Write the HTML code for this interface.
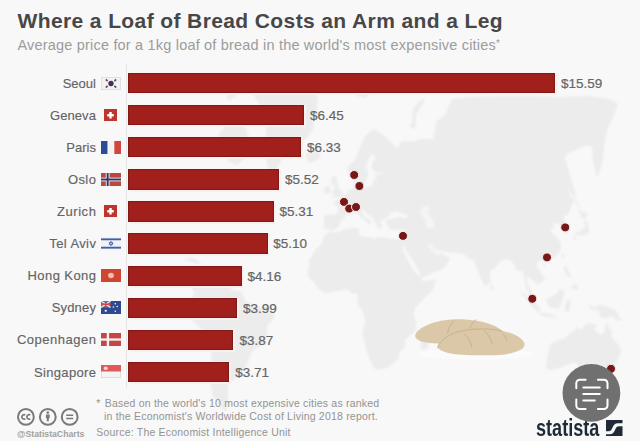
<!DOCTYPE html>
<html><head><meta charset="utf-8">
<style>
*{margin:0;padding:0;box-sizing:border-box}
html,body{width:640px;height:441px;overflow:hidden;background:#f8f8f8}
body{position:relative;font-family:"Liberation Sans",sans-serif}
.abs{position:absolute}
#map{position:absolute;left:0;top:0}
.title{position:absolute;left:17.5px;top:9.2px;font-size:21px;letter-spacing:0.39px;font-weight:bold;color:#474747;white-space:nowrap;line-height:24px}
.sub{position:absolute;left:17.5px;top:35px;font-size:14.5px;letter-spacing:0.19px;color:#9c9c9c;white-space:nowrap;line-height:18px}
.bar{position:absolute;left:128px;height:20.2px;background:#a1201b;box-shadow:inset 0 0 1px 1px #7e1a17,0 0 1px 1.5px #fcf0f0}
.lab{position:absolute;height:20px;line-height:20px;font-size:13px;color:#646464;margin-top:0.9px;-webkit-text-stroke:0.15px #646464;white-space:nowrap;text-align:right}
.val{position:absolute;height:20px;line-height:20px;font-size:13.5px;color:#666;margin-top:1px;-webkit-text-stroke:0.2px #666;white-space:nowrap}
.flag{position:absolute;overflow:hidden}
.note{position:absolute;font-size:10.5px;letter-spacing:0.2px;color:#939393;white-space:nowrap;line-height:13px}
</style></head><body>
<svg id="map" width="640" height="441" viewBox="0 0 640 441">
<defs><filter id="bl" x="-5%" y="-5%" width="110%" height="110%"><feGaussianBlur stdDeviation="0.8"/></filter><clipPath id="cp"><rect x="0" y="94" width="640" height="347"/></clipPath></defs><g clip-path="url(#cp)"><g filter="url(#bl)"><path d="M323.3,228.4L324.7,215.1L337.5,213.9L338.4,208.1L332.7,202.2L337.6,199.7L343.4,196.0L346.6,193.5L348.1,190.2L353.6,188.9L353.3,180.5L356.3,178.6L356.7,185.8L359.1,187.9L362.4,188.4L368.5,186.3L373.2,185.8L372.6,180.5L377.1,179.2L373.6,175.0L382.5,173.6L385.4,172.2L374.8,172.2L372.2,169.4L371.6,163.6L376.0,157.6L371.4,153.9L365.2,166.5L368.8,172.2L365.1,183.2L360.5,184.5L356.9,176.4L352.4,177.8L348.5,175.0L347.5,166.5L354.6,160.6L359.8,148.3L364.7,136.4L373.6,129.1L382.2,134.0L397.7,148.3L400.9,141.2L413.3,141.2L422.5,138.9L433.5,138.9L436.1,121.6L443.9,116.5L452.0,99.0L470.0,97.0L500.0,96.0L530.0,96.0L560.0,97.0L590.0,96.0L610.0,99.0L618.0,104.0L613.0,118.0L607.0,130.0L605.0,141.0L602.0,165.0L597.0,178.0L593.0,162.0L592.0,146.0L585.0,146.0L568.0,153.0L565.0,158.0L570.0,175.0L576.0,195.0L572.6,203.4L567.8,215.1L563.3,216.2L569.7,230.6L565.8,233.8L562.0,227.3L558.2,223.0L552.6,224.1L555.4,228.4L550.1,228.4L552.0,232.7L557.9,239.1L561.3,243.2L560.1,251.4L555.8,256.4L549.0,259.4L543.8,261.3L539.9,260.4L536.8,263.3L537.4,267.2L544.4,276.9L544.7,279.7L537.7,285.1L533.7,281.6L527.4,275.9L527.2,282.6L530.4,289.2L535.5,299.0L530.8,296.8L525.5,286.4L523.1,271.1L516.5,271.1L514.8,265.3L510.3,260.4L506.5,259.4L501.1,260.4L499.7,263.3L489.6,272.1L490.5,282.6L485.1,286.4L483.0,282.6L478.5,273.0L474.4,261.3L469.4,258.4L463.3,253.8L454.0,253.0L444.6,251.8L443.2,250.4L443.2,255.4L447.9,256.4L450.5,258.4L446.1,265.6L442.6,269.2L437.2,271.1L424.4,276.9L420.7,277.4L419.6,273.0L412.8,260.4L404.9,248.3L402.8,245.3L402.3,240.1L403.7,235.9L403.9,230.6L403.7,228.9L396.8,230.2L389.6,229.1L386.3,223.0L385.2,220.1L390.3,219.2L393.6,218.5L400.3,216.7L405.7,218.5L408.8,216.2L403.3,213.9L396.1,211.6L390.3,212.8L389.0,216.2L385.1,219.6L380.0,220.7L382.3,226.3L379.9,229.5L377.0,226.3L374.0,220.7L372.8,217.4L367.4,213.9L362.9,209.3L360.9,210.5L364.1,216.2L367.7,218.5L372.3,221.8L369.0,224.5L368.2,226.3L367.4,221.8L360.8,217.4L358.0,213.9L354.5,212.1L350.4,215.1L345.2,214.4L345.6,217.6L341.0,220.7L339.2,225.2L336.6,228.9L330.3,230.6L327.7,228.4ZM307.4,273.6L309.5,264.3L308.6,261.3L316.4,248.3L322.3,243.6L323.0,238.0L329.5,231.0L336.5,232.5L345.4,228.9L357.7,227.8L359.6,231.7L357.9,233.8L360.7,235.9L367.9,237.0L376.1,239.1L376.0,237.0L381.4,237.0L392.3,239.1L398.3,239.1L402.2,239.1L402.4,246.3L403.3,251.4L407.1,258.4L411.8,267.2L414.8,272.1L421.3,277.8L422.8,281.6L435.8,279.2L435.9,281.6L432.5,290.2L423.2,299.6L415.6,307.2L413.6,314.7L416.2,322.3L415.8,330.9L405.0,339.7L405.5,347.6L399.7,351.6L399.2,357.3L394.2,362.9L386.6,368.1L375.7,369.8L372.4,365.0L367.5,353.6L362.1,333.8L365.5,322.3L362.7,310.9L357.1,303.4L358.0,294.0L351.4,293.4L347.6,289.6L342.0,290.2L332.6,291.7L325.9,293.2L318.4,288.7L314.7,283.5L308.8,278.0ZM432.6,324.2L434.5,330.9L426.5,349.6L421.0,349.6L420.6,342.6L423.2,331.9ZM550.8,343.6L548.2,351.6L545.6,368.1L550.2,370.3L560.1,367.7L572.7,363.1L576.4,362.9L580.7,369.8L585.3,371.3L586.1,376.7L592.9,377.2L597.8,377.8L604.2,375.7L610.4,367.9L616.6,361.8L620.0,355.7L621.3,349.6L617.4,343.6L611.4,337.7L612.2,330.0L608.8,328.1L607.8,321.9L605.3,326.1L603.9,333.8L600.0,334.8L594.4,330.0L596.8,324.2L587.9,323.3L583.7,326.1L582.3,330.0L576.9,328.1L569.4,333.8L565.9,337.7L556.9,341.1ZM591.4,382.9L596.9,383.4L593.5,387.9L590.1,389.3L589.7,385.6ZM587.5,303.4L594.9,307.7L600.7,304.3L606.3,306.4L614.6,310.0L618.2,312.8L618.7,316.6L622.1,321.0L616.5,320.4L611.2,316.2L605.4,318.5L599.9,317.2L599.5,310.9L591.1,309.0ZM545.9,298.7L547.8,304.3L549.6,307.2L559.0,309.0L560.0,305.3L562.9,299.6L564.6,292.1L560.5,288.3L558.0,292.1L553.4,295.8L548.7,298.7ZM519.8,291.1L525.0,294.0L536.5,303.4L540.2,307.2L539.6,312.4L536.3,310.9L530.8,305.3L526.1,298.7ZM538.3,314.3L539.9,312.8L549.3,313.8L555.7,316.2L555.6,317.9L547.2,317.0ZM564.5,311.9L565.8,301.5L567.7,299.6L576.1,298.7L568.6,300.6L572.4,303.4L569.5,304.9L570.2,310.6L567.3,312.3ZM563.3,266.2L567.4,266.2L567.9,271.1L572.5,276.9L566.8,275.9L565.4,273.0ZM569.9,288.3L576.1,283.0L578.4,288.3L576.7,290.2ZM561.7,257.4L562.3,252.8L564.3,253.4L563.4,259.4ZM541.9,265.3L544.2,263.3L546.2,264.1L543.8,266.8ZM574.1,234.9L576.4,231.7L581.4,231.0L581.9,228.4L586.1,226.3L583.2,220.7L584.8,219.2L587.9,223.0L588.9,228.4L590.0,231.2L587.8,233.2L583.6,235.9L577.8,234.9ZM572.0,235.9L575.6,235.9L576.5,240.5L574.6,240.1ZM581.8,218.5L578.0,209.3L588.5,213.9L586.3,217.4ZM579.0,208.1L580.7,207.0L576.1,201.0L577.7,201.0L566.1,187.6L571.1,196.0ZM490.2,283.0L494.2,287.3L492.8,290.2L490.9,289.8ZM330.8,198.5L342.5,196.0L342.8,191.8L340.1,189.7L337.7,185.8L337.0,179.2L335.5,176.1L332.5,176.1L330.8,180.5L331.5,184.5L335.4,186.3L332.9,190.0L332.0,194.3L334.7,195.0ZM330.4,193.5L330.6,188.4L328.3,185.3L324.2,187.9L324.0,193.5ZM305.8,155.3L309.0,151.1L318.9,151.6L320.7,157.6L312.7,162.4L307.4,161.2ZM409.3,126.6L412.4,121.6L412.6,108.7L422.7,98.0L424.6,100.7L416.1,113.9L415.2,129.1ZM353.3,88.0L358.9,81.1L368.3,81.1L372.6,89.7L366.0,98.0L357.3,96.3ZM251.6,92.5L274.2,69.2L306.8,60.0L317.3,70.5L317.6,103.4L313.3,129.1L305.8,138.9L295.7,143.6L282.7,157.6L275.2,172.2L268.4,169.4L265.5,157.6L266.0,138.9L266.0,124.1L258.7,103.4ZM252.6,150.7L237.1,165.1L227.0,160.6L217.9,134.0L236.3,116.5L246.3,129.1ZM228.3,100.7L250.6,86.8L270.2,66.2L245.1,63.1L222.7,81.1ZM189.6,284.5L195.2,285.4L205.0,278.8L223.6,281.6L232.6,290.2L242.0,292.1L245.7,301.5L257.0,306.2L266.5,308.1L274.1,311.9L274.2,318.5L267.0,326.1L267.5,335.8L264.3,343.6L252.1,351.6L245.4,368.1L238.2,376.7L227.6,383.4L228.6,404.5L224.7,412.0L212.3,394.9L209.5,374.6L211.3,359.8L209.8,335.8L195.6,324.2L187.3,310.9L189.0,301.5L194.8,294.0ZM183.0,259.4L192.5,257.4L201.9,263.3L195.4,263.3ZM449.9,86.8L452.1,75.2L463.2,84.0L461.4,92.5ZM395.3,81.1L403.6,75.2L414.6,78.2L408.4,82.3ZM515.4,113.9L519.3,106.1L530.9,108.7L523.0,116.5ZM578.7,129.1L582.5,126.6L583.3,130.1Z" fill="#ececec"/>
<path d="M443.2,250.4L439.5,255.4L434.8,254.4L433.6,251.4L431.8,251.4L427.4,245.3L430.8,243.2L434.0,247.7L439.9,250.4L443.0,249.0ZM419.9,211.6L423.8,206.2L428.7,205.8L429.8,210.5L426.7,211.6L430.5,217.4L433.8,220.7L434.4,227.8L428.3,228.4L426.0,225.2L426.0,220.7L421.4,215.1Z" fill="#f5f5f5"/></g></g>
</svg>
<div class="title">Where a Loaf of Bread Costs an Arm and a Leg</div>
<div class="sub">Average price for a 1kg loaf of bread in the world's most expensive cities<span style="font-size:10px;vertical-align:3px">*</span></div>
<div class="abs" style="left:126.3px;top:64.3px;width:1px;height:323.4px;background:#e6e6e6"></div>




<div class="bar" style="top:73.20px;width:427.3px"></div>
<div class="bar" style="top:105.25px;width:176.3px"></div>
<div class="bar" style="top:137.30px;width:173.3px"></div>
<div class="bar" style="top:169.35px;width:151.4px"></div>
<div class="bar" style="top:201.40px;width:145.9px"></div>
<div class="bar" style="top:233.45px;width:139.6px"></div>
<div class="bar" style="top:265.50px;width:114px"></div>
<div class="bar" style="top:297.55px;width:109.4px"></div>
<div class="bar" style="top:329.60px;width:105.4px"></div>
<div class="bar" style="top:361.65px;width:101.1px"></div>
<div class="lab" style="top:73.20px;right:544.10px;letter-spacing:0px">Seoul</div>
<div class="lab" style="top:105.25px;right:544.03px;letter-spacing:0.07px">Geneva</div>
<div class="lab" style="top:137.30px;right:544.10px;letter-spacing:0px">Paris</div>
<div class="lab" style="top:169.35px;right:543.67px;letter-spacing:0.43px">Oslo</div>
<div class="lab" style="top:201.40px;right:543.54px;letter-spacing:0.56px">Zurich</div>
<div class="lab" style="top:233.45px;right:543.71px;letter-spacing:0.39px">Tel Aviv</div>
<div class="lab" style="top:265.50px;right:543.69px;letter-spacing:0.41px">Hong Kong</div>
<div class="lab" style="top:297.55px;right:543.94px;letter-spacing:0.16px">Sydney</div>
<div class="lab" style="top:329.60px;right:543.60px;letter-spacing:0.5px">Copenhagen</div>
<div class="lab" style="top:361.65px;right:543.77px;letter-spacing:0.33px">Singapore</div>
<div class="val" style="top:73.20px;left:560.9px">$15.59</div>
<div class="val" style="top:105.25px;left:309.9px">$6.45</div>
<div class="val" style="top:137.30px;left:306.9px">$6.33</div>
<div class="val" style="top:169.35px;left:285.0px">$5.52</div>
<div class="val" style="top:201.40px;left:279.5px">$5.31</div>
<div class="val" style="top:233.45px;left:273.2px">$5.10</div>
<div class="val" style="top:265.50px;left:247.6px">$4.16</div>
<div class="val" style="top:297.55px;left:243.0px">$3.99</div>
<div class="val" style="top:329.60px;left:239.6px">$3.87</div>
<div class="val" style="top:361.65px;left:235.3px">$3.71</div>

<!-- flags -->
<svg class="abs" style="left:101px;top:76.80px" width="20" height="13" viewBox="0 0 21 13" preserveAspectRatio="none">
 <rect x="0.5" y="0.5" width="20" height="12" fill="#f2f2f2" stroke="#e0e0e0" stroke-width="1"/>
 <circle cx="10.5" cy="6.5" r="2.8" fill="#4a2b5a"/>
 <g stroke="#555" stroke-width="1.6"><path d="M5,2.5l2,1.5M16,2.5l-2,1.5M5,10.5l2,-1.5M16,10.5l-2,-1.5"/></g>
</svg>
<svg class="abs" style="left:103.6px;top:108.55px" width="13" height="12.5" viewBox="0 0 14 13" preserveAspectRatio="none">
 <rect width="14" height="13" fill="#c0352b"/><path d="M5.7,3h2.6v2.2h2.2v2.6h-2.2v2.2h-2.6v-2.2h-2.2v-2.6h2.2z" fill="#fff"/>
</svg>
<svg class="abs" style="left:101px;top:140.90px" width="20" height="13" viewBox="0 0 21 14" preserveAspectRatio="none">
 <rect width="7" height="14" fill="#2a4b9a"/><rect x="7" width="7" height="14" fill="#f3f3f3"/><rect x="14" width="7" height="14" fill="#d0453c"/>
</svg>
<svg class="abs" style="left:101px;top:172.95px" width="20" height="13" viewBox="0 0 21 14" preserveAspectRatio="none">
 <rect width="21" height="14" fill="#c0453c"/><rect x="5" width="4" height="14" fill="#eee"/><rect y="5" width="21" height="4" fill="#eee"/>
 <rect x="6" width="2" height="14" fill="#30336a"/><rect y="6" width="21" height="2" fill="#30336a"/>
</svg>
<svg class="abs" style="left:103.6px;top:204.70px" width="13" height="12.5" viewBox="0 0 14 13" preserveAspectRatio="none">
 <rect width="14" height="13" fill="#c0352b"/><path d="M5.7,3h2.6v2.2h2.2v2.6h-2.2v2.2h-2.6v-2.2h-2.2v-2.6h2.2z" fill="#fff"/>
</svg>
<svg class="abs" style="left:101px;top:237.05px" width="20" height="13" viewBox="0 0 21 14" preserveAspectRatio="none">
 <rect width="21" height="14" fill="#f2f2f2"/><rect y="1.5" width="21" height="2" fill="#3d5fb0"/><rect y="10.5" width="21" height="2" fill="#3d5fb0"/>
 <path d="M10.5,4.5l2,3.4h-4zM10.5,9.5l2,-3.4h-4z" fill="none" stroke="#3d5fb0" stroke-width="0.8"/>
</svg>
<svg class="abs" style="left:101px;top:269.10px" width="20" height="13" viewBox="0 0 21 14" preserveAspectRatio="none">
 <rect width="21" height="14" fill="#d0452f"/><circle cx="10.5" cy="7" r="3" fill="#f0c0b0"/>
</svg>
<svg class="abs" style="left:101px;top:301.15px" width="20" height="13" viewBox="0 0 21 14" preserveAspectRatio="none">
 <rect width="21" height="14" fill="#2f4b8f"/>
 <rect width="10" height="7" fill="#6a6aa0"/><path d="M0,0L10,7M10,0L0,7" stroke="#eee" stroke-width="1.4"/><path d="M5,0v7M0,3.5h10" stroke="#d44" stroke-width="1.6"/>
 <circle cx="5" cy="10.5" r="1.2" fill="#fff"/><circle cx="15" cy="3" r="0.8" fill="#fff"/><circle cx="17" cy="6" r="0.8" fill="#fff"/><circle cx="15" cy="11" r="0.8" fill="#fff"/><circle cx="13" cy="6.5" r="0.8" fill="#fff"/>
</svg>
<svg class="abs" style="left:101px;top:333.20px" width="20" height="13" viewBox="0 0 21 14" preserveAspectRatio="none">
 <rect width="21" height="14" fill="#c94444"/><rect x="6" width="2.5" height="14" fill="#f2f2f2"/><rect y="5.8" width="21" height="2.5" fill="#f2f2f2"/>
</svg>
<svg class="abs" style="left:101px;top:365.25px" width="20" height="13" viewBox="0 0 21 14" preserveAspectRatio="none">
 <rect x="0.5" y="0.5" width="20" height="13" fill="#f4f4f4" stroke="#ddd" stroke-width="1"/><rect width="21" height="7" fill="#e05a5a"/><circle cx="5" cy="3.5" r="2" fill="#f8d8d8"/>
</svg>

<!-- dots -->
<svg class="abs" style="left:0;top:0" width="640" height="441"><g fill="#761818" stroke="#fbf0f0" stroke-width="1"><circle cx="354.2" cy="175.0" r="4.5"/><circle cx="359.4" cy="186.0" r="4.5"/><circle cx="344.0" cy="201.9" r="4.5"/><circle cx="349.2" cy="208.6" r="4.5"/><circle cx="356.0" cy="207.0" r="4.5"/><circle cx="403.0" cy="235.9" r="4.5"/><circle cx="565.2" cy="227.4" r="4.5"/><circle cx="547.0" cy="257.4" r="4.5"/><circle cx="532.3" cy="298.8" r="4.5"/><circle cx="611.0" cy="368.8" r="4.5"/></g></svg>

<!-- bread -->
<svg class="abs" style="left:0;top:0" width="640" height="441">
 <ellipse cx="476" cy="354" rx="56" ry="6" fill="#fbfbfb"/>
 <path d="M415.2,335.5 C416,328 435,319.5 456,319.2 C478,319 496,324 502.5,331.4 L490,345 L437.5,343.6 C425,343 415,341 415.2,335.5Z" fill="#dbc8a9"/>
 <path d="M437.5,347.7 C438,341 452,331 472,329.4 C490,328 512,331 520,338 C526,342 526,347 520,350 C510,355 496,355.5 486.3,355.3 C470,355 446,356 437.5,347.7Z" fill="#dbc8a9"/>
 <g stroke="#cbb08c" stroke-width="1" fill="none">
  <path d="M454,320.5 C450,325 448,329 447.7,334"/>
  <path d="M476,319.5 C473,322 471,325 470,328.5"/>
  <path d="M437.5,347.5 C441,339 452,331 472,329.4 C485,328.5 496,329 503,331.5"/>
  <path d="M464,333.6 C468,337 471,342 472,347.7"/>
  <path d="M484.2,330.6 C488,334 491,339 492.3,344.6"/>
  <path d="M502.5,333.6 C505,335.5 506,338 506.6,340.5"/>
 </g>
</svg>

<!-- footer -->
<svg class="abs" style="left:0;top:400px" width="100" height="41" viewBox="0 400 100 41">
 <g fill="none" stroke="#7a7a7a" stroke-width="2"><circle cx="25.9" cy="416.9" r="7.9"/><circle cx="47.8" cy="416.9" r="7.9"/><circle cx="69.7" cy="416.9" r="7.9"/></g>
 <g fill="none" stroke="#7a7a7a" stroke-width="1.7"><path d="M25.3,414.9a2.3,2.3 0 1 0 0,4"/><path d="M30.3,414.9a2.3,2.3 0 1 0 0,4"/></g>
 <circle cx="47.8" cy="412.6" r="1.3" fill="#7a7a7a"/><path d="M45.9,414.5h3.8v3.8h-0.9v3h-2v-3h-0.9z" fill="#7a7a7a"/>
 <path d="M66.2,415.3h7M66.2,418.5h7" stroke="#7a7a7a" stroke-width="1.5"/>
</svg>
<div class="abs" style="left:17px;top:429px;font-size:8.7px;font-weight:bold;color:#a0a0a0;white-space:nowrap;line-height:10px">@StatistaCharts</div>
<div class="note" style="left:96.3px;top:397.2px">*</div>
<div class="note" style="left:104.8px;top:397.2px">Based on the world's 10 most expensive cities as ranked</div>
<div class="note" style="left:104px;top:409.7px">in the Economist's Worldwide Cost of Living 2018 report.</div>
<div class="note" style="left:96.3px;top:426.2px">Source: The Economist Intelligence Unit</div>

<!-- statista logo -->
<div class="abs" style="left:536px;top:415.8px;font-size:23px;font-weight:bold;color:#1f2a38;white-space:nowrap;line-height:24px;transform-origin:0 0;transform:scaleX(0.786)">statista</div>
<svg class="abs" style="left:606px;top:420px" width="16.5" height="16" viewBox="0 0 16.5 16">
 <path d="M0,0H16.5V3.2H11.5C9,3.2 8,4.5 7,6.5L5.8,9C5,10.6 4.2,11.2 2.5,11.2H0Z" fill="#1f2a38"/>
 <path d="M16.5,16H0V14.2H4C6.5,14.2 7.5,13 8.5,11L9.7,8.5C10.5,6.9 11.3,6.2 13,6.2H16.5Z" fill="#1f2a38"/>
</svg>

<!-- scan overlay -->
<svg class="abs" style="left:0;top:0" width="640" height="441">
 <circle cx="591.4" cy="392.9" r="28.9" fill="#707070"/>
 <g fill="none" stroke="#fff" stroke-width="2" stroke-linecap="round">
  <path d="M576.3,388.2v-5a3.5,3.5 0 0 1 3.5,-3.5h5.8M597.9,379.7h6.1a3.5,3.5 0 0 1 3.5,3.5v5M607.5,399.5v6a3.5,3.5 0 0 1 -3.5,3.5h-6.1M585.6,409h-5.8a3.5,3.5 0 0 1 -3.5,-3.5v-6"/>
  <path d="M583.3,387.4h16.5M583.3,394h16.5M583.3,400.5h11.5"/>
 </g>
</svg>
</body></html>
